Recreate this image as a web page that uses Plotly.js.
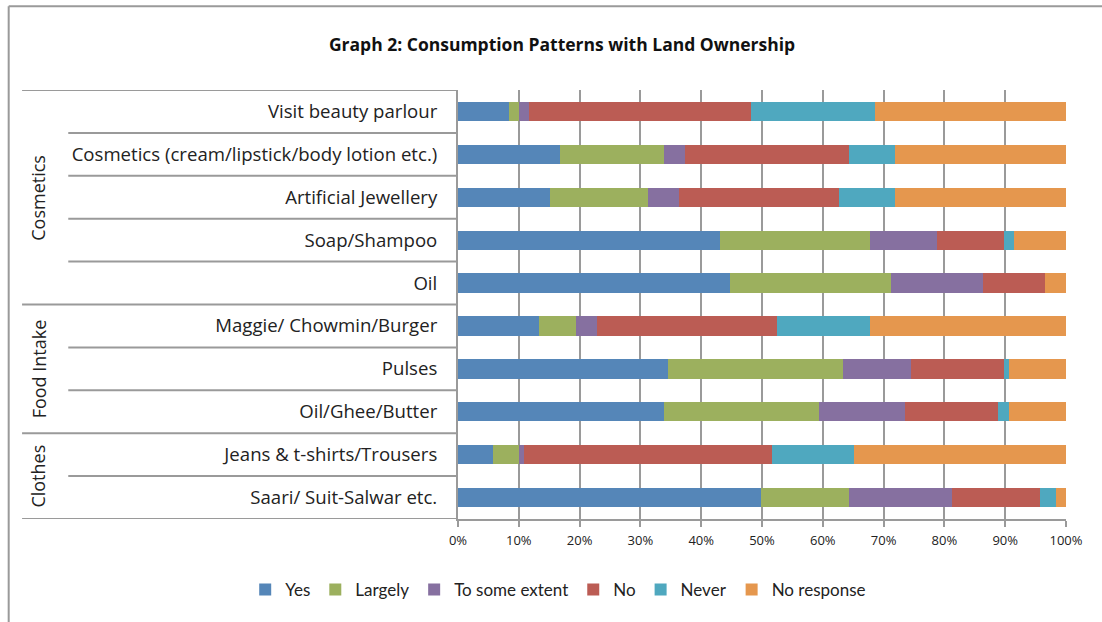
<!DOCTYPE html>
<html>
<head>
<meta charset="utf-8">
<script src="https://cdn.plot.ly/plotly-3.0.1.min.js"></script>
<style>
html,body{margin:0;padding:0;background:#fff;}
#chart{width:1102px;height:622px;}
</style>
</head>
<body>
<div id="chart"></div>
<script>
// Categories, top to bottom
const items = [
  "Visit beauty parlour",
  "Cosmetics (cream/lipstick/body lotion etc.)",
  "Artificial Jewellery",
  "Soap/Shampoo",
  "Oil",
  "Maggie/ Chowmin/Burger",
  "Pulses",
  "Oil/Ghee/Butter",
  "Jeans & t-shirts/Trousers",
  "Saari/ Suit-Salwar etc."
];
const groups = ["Cosmetics","Cosmetics","Cosmetics","Cosmetics","Cosmetics",
                "Food Intake","Food Intake","Food Intake",
                "Clothes","Clothes"];

const seriesNames = ["Yes","Largely","To some extent","No","Never","No response"];
const yes      = [8.4, 16.8, 15.1, 43.1, 44.8, 13.4, 34.6, 33.9, 5.8, 49.8];
const largely  = [1.6, 17.0, 16.2, 24.6, 26.4, 6.0, 28.8, 25.4, 4.3, 14.5];
const someExt  = [1.7, 3.5, 5.0, 11.1, 15.2, 3.4, 11.1, 14.3, 0.8, 16.9];
const no       = [36.5, 27.0, 26.3, 11.0, 10.1, 29.6, 15.3, 15.2, 40.8, 14.5];
const never    = [20.4, 7.6, 9.3, 1.6, 0.0, 15.3, 0.9, 1.9, 13.5, 2.6];
const noResp   = [31.4, 28.1, 28.1, 8.6, 3.5, 32.3, 9.3, 9.3, 34.8, 1.7];

const tickVals = [0,10,20,30,40,50,60,70,80,90,100];
const tickText = ["0%","10%","20%","30%","40%","50%","60%","70%","80%","90%","100%"];

const colors = ["#5586B8","#9CB05E","#8670A0","#BB5C54","#4FA8BF","#E5974E"];
const values = [yes, largely, someExt, no, never, noResp];

const FONT = "'Open Sans', Lato, sans-serif";
const LFONT = "Lato, 'Open Sans', sans-serif";

const traces = values.map((v,i)=>({
  type:"bar",
  orientation:"h",
  name: seriesNames[i],
  x: v,
  y: items,
  marker:{color:colors[i], line:{width:0}},
  hoverinfo:"x+name"
}));

// Table lines on the left: row separators and group separators
const lineColor = "#9a9a9a";
const shapes = [];
const n = items.length;
for (let k = 0; k <= n; k++) {
  const isGroupEdge = (k === 0 || k === n || groups[k] !== groups[k-1]);
  shapes.push({
    type:"line", xref:"paper", yref:"y",
    x0: isGroupEdge ? -0.717 : -0.641, x1: 0,
    y0: k - 0.5, y1: k - 0.5,
    line:{color:lineColor, width:2}
  });
}
// chart outer border (top and left)
shapes.push({type:"line", xref:"paper", yref:"paper", x0:-0.739, x1:1.1, y0:1.195, y1:1.195, line:{color:"#9a9a9a", width:2}});
shapes.push({type:"line", xref:"paper", yref:"paper", x0:-0.739, x1:-0.739, y0:1.195, y1:-0.3, line:{color:"#9a9a9a", width:2}});

// Group labels
const annotations = [];
let start = 0;
for (let k = 1; k <= n; k++) {
  if (k === n || groups[k] !== groups[start]) {
    annotations.push({
      xref:"paper", yref:"y",
      x:-0.713, y:(start + k - 1)/2,
      text: groups[start],
      textangle:-90,
      showarrow:false,
      font:{family:FONT, size:18, color:"#222"}
    });
    start = k;
  }
}

const layout = {
  width:1102, height:622,
  margin:{l:458, r:36, t:90, b:103},
  paper_bgcolor:"#fff", plot_bgcolor:"#fff",
  barmode:"stack",
  bargap:0.55,
  title:{text:"<b>Graph 2: Consumption Patterns with Land Ownership</b>",
         x:0.51, xanchor:"center", y:0.928, yanchor:"middle",
         font:{family:FONT, size:17.5, color:"#111"}},
  xaxis:{
    range:[0,100], tickvals:tickVals, ticktext:tickText,
    showgrid:true, gridcolor:"#9a9a9a", gridwidth:2,
    showline:true, linecolor:"#9a9a9a", linewidth:2,
    ticks:"outside", ticklen:6, tickcolor:"#9a9a9a", tickwidth:2,
    ticklabelstandoff:2,
    tickfont:{family:FONT, size:13, color:"#222"},
    zeroline:false, fixedrange:true
  },
  yaxis:{
    type:"category",
    categoryorder:"array", categoryarray:items,
    autorange:false, range:[n-0.5,-0.5],
    showline:true, linecolor:"#9a9a9a", linewidth:2,
    ticks:"", ticklabelstandoff:15,
    tickfont:{family:FONT, size:18.6, color:"#222"},
    showgrid:false, zeroline:false, fixedrange:true
  },
  legend:{
    orientation:"h", x:-0.35, xanchor:"left",
    y:-0.1655, yanchor:"middle",
    font:{family:LFONT, size:17, color:"#222"},
    traceorder:"normal"
  },
  shapes:shapes,
  annotations:annotations,
  showlegend:true
};

Plotly.newPlot("chart", traces, layout, {displayModeBar:false, staticPlot:true});
</script>
</body>
</html>
